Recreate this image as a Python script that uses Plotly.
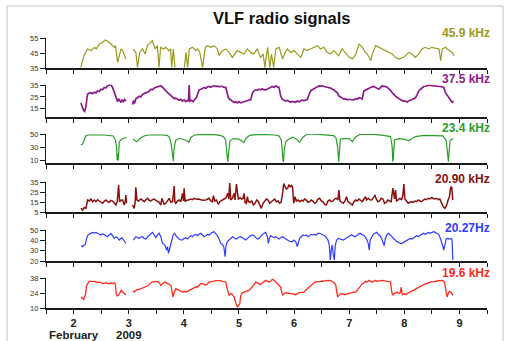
import plotly.graph_objects as go

# ---------------- data (day of February 2009, signal amplitude) ----------------
d_459 = [2.13, 2.19, 2.25, 2.32, 2.38, 2.41, 2.47, 2.53, 2.57, 2.62, 2.68, 2.74, 2.76, 2.80, 2.86, 2.89, 2.95, None,
         3.08, 3.13, 3.16, 3.20, 3.25, 3.30, 3.34, 3.40, 3.43, 3.48, 3.52, 3.55, 3.58, 3.63, 3.67, 3.73, 3.76, 3.78, 3.81, 3.84, None,
         4.01, 4.04, 4.07, 4.10, 4.16, 4.22, 4.25, 4.29, 4.34, 4.39, 4.43, 4.49, 4.55, 4.61, 4.64, 4.70, 4.76, 4.82, 4.88,
         4.97, 5.03, 5.09, 5.15, 5.21, 5.27, 5.33, 5.39, 5.44, 5.47, 5.52, 5.56, 5.59, 5.63, 5.67, 5.73, 5.79, 5.84, 5.88,
         5.94, 6.00, 6.06, 6.12, 6.18, 6.24, 6.30, 6.36, 6.42, 6.48, 6.54, 6.60, 6.66, 6.72, 6.81, 6.87, 6.93, 7.00, 7.06,
         7.12, 7.18, 7.24, 7.29, 7.33, 7.39, 7.42, 7.48, 7.54, 7.60, 7.66, 7.72, 7.78, 7.84, 7.90, 7.99, 8.08, 8.14, 8.20,
         8.26, 8.32, 8.38, 8.44, 8.50, 8.57, 8.63, 8.66, 8.69, 8.75, 8.81, 8.87, 8.90]
v_459 = [35.4, 43.2, 47.7, 46.6, 48.8, 47.7, 51.0, 52.1, 53.7, 52.8, 51.0, 48.8, 49.9, 38.8, 47.7, 46.6, 41.0, None,
         47.7, 45.4, 35.4, 45.4, 47.7, 44.3, 49.9, 52.1, 53.2, 47.7, 49.9, 35.4, 48.8, 47.7, 48.8, 46.6, 47.7, 35.4, 47.7, 35.4, None,
         35.4, 45.4, 35.4, 47.7, 48.8, 46.6, 47.7, 45.4, 35.4, 48.8, 49.9, 48.8, 49.9, 47.7, 43.2, 46.6, 47.7, 45.4, 42.1,
         46.6, 45.4, 44.3, 47.7, 45.4, 44.3, 47.7, 42.1, 44.3, 35.4, 48.8, 35.4, 44.3, 35.4, 47.7, 48.8, 41.0, 45.4, 47.7,
         45.4, 46.6, 44.3, 42.1, 47.7, 46.6, 47.7, 48.8, 49.9, 47.7, 48.8, 45.4, 44.3, 46.6, 43.2, 47.7, 45.4, 42.1, 41.0,
         44.3, 51.0, 48.8, 45.4, 44.3, 39.9, 44.3, 49.9, 48.8, 47.7, 46.6, 45.4, 44.3, 42.1, 41.0, 42.1, 45.4, 44.3, 42.1,
         44.3, 47.7, 48.8, 47.7, 48.8, 48.3, 47.7, 39.9, 47.7, 48.8, 46.6, 45.4, 43.2]

d_375 = [2.134, 2.164, 2.182, 2.2, 2.225, 2.243, 2.255, 2.285, 2.315, 2.345, 2.376, 2.406, 2.436, 2.466, 2.497, 2.527,
         2.557, 2.587, 2.617, 2.647, 2.678, 2.708, 2.738, 2.756, 2.78, 2.798, 2.817, 2.841, 2.859, 2.877, 2.901, 2.925, 2.949, None,
         3.07, 3.088, 3.106, 3.13, 3.161, 3.191, 3.221, 3.251, 3.281, 3.312, 3.342, 3.372, 3.402, 3.432, 3.463, 3.493,
         3.523, 3.553, 3.583, 3.614, 3.644, 3.674, 3.704, 3.734, 3.765, 3.795, 3.825, 3.855, 3.885, 3.915, 3.946, 3.976,
         4.006, 4.036, 4.066, 4.085, 4.097, 4.109, 4.139, 4.169, 4.199, 4.23, 4.248, 4.278, 4.308, 4.338, 4.368, 4.399,
         4.429, 4.459, 4.489, 4.519, 4.549, 4.58, 4.61, 4.64, 4.67, 4.70, 4.73, 4.761, 4.791, 4.809, 4.833, 4.857, 4.882,
         4.912, 4.942, 4.972, 5.003, 5.033, 5.063, 5.093, 5.123, 5.153, 5.184, 5.214, 5.244, 5.274, 5.304, 5.334, 5.365,
         5.395, 5.425, 5.455, 5.486, 5.516, 5.546, 5.576, 5.606, 5.637, 5.667, 5.697, 5.727, 5.757, 5.787, 5.818, 5.848,
         5.878, 5.908, 5.938, 5.969, 5.999, 6.029, 6.059, 6.089, 6.119, 6.15, 6.18, 6.21, 6.24, 6.271, 6.301, 6.331, 6.361,
         6.391, 6.422, 6.452, 6.482, 6.512, 6.542, 6.573, 6.603, 6.633, 6.663, 6.693, 6.724, 6.754, 6.784, 6.814, 6.844,
         6.874, 6.905, 6.935, 6.965, 6.995, 7.025, 7.056, 7.086, 7.116, 7.146, 7.176, 7.207, 7.237, 7.267, 7.297, 7.327,
         7.358, 7.388, 7.418, 7.448, 7.478, 7.509, 7.539, 7.569, 7.599, 7.629, 7.66, 7.69, 7.72, 7.75, 7.78, 7.811, 7.841,
         7.871, 7.901, 7.931, 7.962, 7.992, 8.022, 8.052, 8.082, 8.113, 8.143, 8.173, 8.203, 8.233, 8.264, 8.294, 8.324,
         8.354, 8.384, 8.415, 8.445, 8.475, 8.505, 8.535, 8.565, 8.596, 8.626, 8.656, 8.686, 8.716, 8.746, 8.777, 8.807,
         8.837, 8.867, 8.897]
v_375 = [19.9, 15.6, 13.5, 12.7, 17.0, 24.0, 27.2, 28.2, 28.6, 27.8, 29.0, 28.4, 30.1, 29.6, 31.5, 31.0,
         33.0, 32.5, 34.4, 35.0, 35.3, 33.0, 28.6, 26.0, 22.8, 21.0, 23.5, 21.4, 20.2, 22.5, 21.0, 22.8, 21.4, None,
         18.5, 22.0, 19.5, 23.5, 24.3, 25.5, 25.0, 27.2, 27.8, 28.6, 29.5, 29.8, 31.5, 31.0, 32.5, 33.0,
         33.5, 34.0, 34.4, 33.2, 31.5, 30.5, 28.6, 27.5, 26.0, 24.3, 23.5, 24.0, 22.8, 22.2, 23.0, 21.4,
         22.5, 21.0, 22.0, 21.4, 35.0, 21.4, 22.2, 21.0, 23.0, 24.5, 27.0, 30.9, 31.5, 32.5, 33.0, 32.2,
         33.5, 33.8, 33.2, 34.0, 34.4, 34.0, 34.2, 33.5, 34.0, 33.8, 33.0, 33.0, 28.0, 24.3, 23.0, 22.0, 21.4,
         20.2, 21.0, 19.9, 21.0, 20.0, 20.5, 21.0, 21.4, 21.8, 22.5, 22.8, 28.0, 30.1, 31.0, 30.5, 31.5,
         31.0, 31.8, 30.9, 30.9, 31.5, 32.5, 33.2, 33.8, 33.0, 34.4, 33.5, 33.0, 25.7, 23.0, 22.2, 21.5,
         22.0, 21.4, 20.5, 21.2, 20.5, 20.5, 21.5, 20.8, 21.8, 22.2, 21.8, 22.5, 22.8, 27.0, 30.1, 31.0, 32.0,
         33.0, 33.5, 34.4, 34.2, 34.4, 33.8, 33.8, 33.2, 32.8, 32.5, 31.5, 31.0, 29.5, 28.6, 25.7, 24.5,
         24.0, 23.2, 23.4, 22.5, 23.0, 22.8, 22.8, 22.5, 23.5, 23.2, 24.3, 23.5, 23.4, 30.1, 31.0, 31.5,
         32.1, 33.0, 33.5, 33.8, 33.0, 32.0, 31.5, 33.0, 34.4, 33.8, 34.0, 33.0, 32.0, 30.5, 28.6, 27.5, 25.7,
         24.5, 23.5, 22.8, 21.8, 21.4, 21.4, 20.5, 21.8, 22.2, 23.0, 23.8, 24.3, 27.0, 30.1, 31.5, 32.5,
         33.8, 34.0, 34.5, 35.0, 34.7, 34.4, 34.5, 34.4, 34.0, 33.8, 33.8, 33.5, 33.0, 28.6, 26.5, 24.3,
         22.0, 20.5, 21.4]

d_234 = [2.13, 2.16, 2.19, 2.22, 2.26, 2.35, 2.45, 2.55, 2.65, 2.72, 2.76, 2.78, 2.79, 2.80, 2.81, 2.83, 2.87, 2.92, 2.96, None,
         3.08, 3.12, 3.15, 3.20, 3.28, 3.36, 3.50, 3.60, 3.70, 3.74, 3.77, 3.80, 3.81, 3.82, 3.85, 3.92, 4.00, 4.05, 4.09,
         4.13, 4.20, 4.35, 4.55, 4.65, 4.72, 4.76, 4.79, 4.80, 4.81, 4.84, 4.90, 5.00, 5.06, 5.09, 5.13, 5.20, 5.35, 5.50,
         5.65, 5.73, 5.77, 5.80, 5.81, 5.82, 5.85, 5.90, 5.98, 6.06, 6.10, 6.16, 6.24, 6.45, 6.60, 6.72, 6.76, 6.79, 6.81,
         6.82, 6.84, 6.90, 7.00, 7.06, 7.11, 7.20, 7.45, 7.62, 7.75, 7.78, 7.79, 7.80, 7.82, 7.90, 8.00, 8.08, 8.12, 8.20,
         8.35, 8.55, 8.70, 8.76, 8.80, 8.81, 8.83, 8.86, 8.89]
v_234 = [33.0, 34.0, 40.0, 47.0, 48.5, 49.0, 48.5, 48.5, 48.0, 47.0, 41.0, 30.0, 10.0, 20.0, 9.0, 38.0, 42.0, 44.0, 45.0, None,
         42.0, 39.0, 38.0, 43.0, 47.0, 48.5, 49.0, 48.5, 48.0, 45.0, 35.0, 10.0, 8.0, 25.0, 40.0, 43.4, 42.0, 40.0, 37.2,
         45.0, 48.5, 49.5, 49.0, 48.0, 46.0, 40.0, 12.0, 7.0, 20.0, 40.0, 43.0, 42.0, 38.5, 37.0, 44.0, 48.0, 49.5, 49.0,
         48.5, 47.0, 40.0, 9.0, 7.0, 25.0, 38.0, 42.0, 45.0, 41.0, 37.2, 45.0, 50.0, 49.5, 48.5, 47.5, 44.0, 30.0, 7.4,
         20.0, 42.0, 43.0, 43.0, 38.0, 45.0, 49.5, 49.5, 48.0, 46.0, 30.0, 7.4, 12.0, 41.0, 43.0, 42.0, 40.0, 42.0, 46.0,
         48.0, 48.0, 47.0, 40.0, 7.4, 20.0, 40.0, 42.0, 43.0]

d_2090 = [2.134, 2.164, 2.194, 2.225, 2.243, 2.255, 2.285, 2.315, 2.345, 2.376, 2.406, 2.436, 2.466, 2.497, 2.527, 2.557,
          2.587, 2.617, 2.647, 2.678, 2.708, 2.738, 2.768, 2.792, 2.817, 2.835, 2.859, 2.889, 2.919, 2.937, 2.949, 2.961, None,
          3.07, 3.1, 3.118, 3.13, 3.149, 3.179, 3.221, 3.251, 3.281, 3.312, 3.342, 3.372, 3.402, 3.432, 3.463, 3.493, 3.523,
          3.553, 3.583, 3.602, 3.614, 3.644, 3.674, 3.704, 3.734, 3.765, 3.795, 3.813, 3.825, 3.837, 3.855, 3.885, 3.915,
          3.946, 3.976, 3.994, 4.006, 4.024, 4.048, 4.085, 4.121, 4.157, 4.193, 4.23, 4.266, 4.308, 4.35, 4.399, 4.435,
          4.459, 4.489, 4.519, 4.537, 4.562, 4.592, 4.628, 4.652, 4.688, 4.73, 4.761, 4.797, 4.815, 4.833, 4.852, 4.882,
          4.912, 4.93, 4.954, 4.972, 4.99, 5.021, 5.051, 5.075, 5.093, 5.111, 5.135, 5.153, 5.172, 5.202, 5.232, 5.262,
          5.292, 5.322, 5.353, 5.383, 5.407, 5.437, 5.467, 5.498, 5.528, 5.558, 5.588, 5.618, 5.649, 5.679, 5.709, 5.739,
          5.763, 5.788, 5.812, 5.836, 5.86, 5.884, 5.908, 5.932, 5.957, 5.975, 5.993, 6.017, 6.041, 6.071, 6.101, 6.132,
          6.162, 6.192, 6.222, 6.253, 6.283, 6.313, 6.343, 6.373, 6.404, 6.434, 6.464, 6.494, 6.524, 6.555, 6.585, 6.615,
          6.645, 6.675, 6.706, 6.736, 6.766, 6.796, 6.814, 6.832, 6.862, 6.893, 6.923, 6.953, 6.971, 7.001, 7.031, 7.056,
          7.086, 7.116, 7.146, 7.176, 7.207, 7.237, 7.267, 7.297, 7.315, 7.346, 7.376, 7.406, 7.442, 7.467, 7.491, 7.521,
          7.551, 7.581, 7.611, 7.642, 7.672, 7.702, 7.732, 7.762, 7.793, 7.823, 7.841, 7.859, 7.889, 7.919, 7.95, 7.974,
          7.992, 8.01, 8.04, 8.07, 8.1, 8.131, 8.161, 8.191, 8.221, 8.251, 8.282, 8.312, 8.342, 8.372, 8.402, 8.432, 8.463,
          8.493, 8.523, 8.553, 8.584, 8.614, 8.644, 8.674, 8.705, 8.735, 8.765, 8.795, 8.819, 8.843, 8.861, 8.879]
v_2090 = [8.7, 7.0, 9.3, 8.7, 13.7, 17.0, 16.0, 18.0, 15.3, 17.0, 15.3, 17.3, 16.0, 14.7, 13.7, 16.0,
          17.0, 15.3, 14.7, 16.7, 16.0, 14.0, 12.0, 15.3, 32.0, 15.3, 16.7, 17.0, 12.0, 15.3, 22.0, 13.7, None,
          12.0, 8.7, 15.3, 29.7, 17.0, 16.0, 18.0, 16.7, 15.3, 17.3, 18.7, 16.7, 16.0, 17.3, 18.0, 16.7, 16.0,
          14.7, 12.0, 18.7, 17.0, 12.7, 13.7, 17.0, 18.7, 14.7, 15.3, 23.7, 31.0, 15.3, 13.7, 16.0, 17.0,
          15.3, 23.7, 16.0, 28.7, 15.3, 16.7, 17.0, 18.0, 17.3, 18.7, 17.7, 18.0, 17.3, 16.7, 17.0, 18.0,
          18.7, 16.0, 15.3, 21.3, 16.0, 17.0, 12.7, 15.3, 17.0, 18.0, 18.7, 23.7, 18.0, 34.0, 17.0, 18.7,
          23.7, 17.0, 33.0, 22.0, 18.0, 19.3, 18.0, 18.7, 23.7, 14.7, 13.7, 20.3, 15.3, 14.7, 16.0, 12.0,
          13.7, 17.0, 15.3, 11.3, 8.7, 13.7, 16.0, 18.0, 17.0, 13.7, 15.3, 17.0, 18.0, 15.3, 16.0, 13.7,
          14.7, 22.0, 33.5, 30.3, 28.0, 29.0, 32.0, 30.3, 32.0, 28.7, 13.7, 20.3, 16.0, 17.0, 15.3, 16.7,
          16.0, 18.0, 17.0, 14.7, 15.3, 17.0, 16.0, 13.7, 14.7, 18.0, 18.7, 16.0, 15.3, 12.7, 12.0, 16.0,
          17.0, 15.3, 16.0, 18.0, 18.7, 17.0, 27.0, 16.0, 14.7, 13.7, 16.0, 20.3, 16.0, 14.7, 12.7, 12.0,
          15.3, 17.0, 16.0, 18.0, 16.7, 15.3, 18.0, 20.3, 17.0, 18.7, 17.3, 17.0, 19.3, 22.0, 18.0, 15.3,
          16.0, 18.7, 18.0, 13.7, 14.7, 17.0, 16.0, 15.3, 29.0, 18.0, 27.0, 16.0, 17.0, 18.7, 17.0, 22.0,
          33.0, 18.0, 16.0, 13.7, 14.7, 15.3, 14.7, 16.0, 15.3, 17.0, 16.0, 15.3, 16.7, 18.0, 17.3, 18.7, 18.0,
          19.3, 18.7, 18.0, 18.7, 17.3, 18.0, 13.7, 10.3, 8.7, 11.3, 17.0, 20.3, 30.3, 29.3, 17.0]

d_2027 = [2.134, 2.164, 2.194, 2.213, 2.237, 2.261, 2.285, 2.315, 2.345, 2.376, 2.406, 2.436, 2.466, 2.497, 2.527, 2.557,
          2.587, 2.617, 2.647, 2.678, 2.708, 2.738, 2.768, 2.798, 2.829, 2.859, 2.877, 2.907, 2.949, None,
          3.082, 3.106, 3.13, 3.161, 3.191, 3.221, 3.251, 3.281, 3.312, 3.342, 3.372, 3.402, 3.432, 3.463, 3.493, 3.523,
          3.553, 3.583, 3.614, 3.644, 3.662, 3.686, 3.704, 3.722, 3.74, 3.759, 3.783, 3.807, 3.831, 3.855, 3.885, 3.915,
          3.946, 3.976, 4.006, 4.036, 4.066, 4.097, 4.127, 4.157, 4.187, 4.218, 4.248, 4.278, 4.308, 4.338, 4.368, 4.399,
          4.429, 4.459, 4.489, 4.519, 4.549, 4.58, 4.61, 4.64, 4.67, 4.70, 4.725, 4.749, 4.767, 4.791, 4.821, 4.852, 4.882,
          4.912, 4.942, 4.972, 5.003, 5.033, 5.063, 5.093, 5.123, 5.153, 5.184, 5.214, 5.244, 5.274, 5.304, 5.334, 5.365,
          5.395, 5.425, 5.455, 5.486, 5.516, 5.534, 5.552, 5.576, 5.606, 5.637, 5.667, 5.697, 5.727, 5.757, 5.788, 5.818,
          5.848, 5.878, 5.908, 5.938, 5.969, 5.999, 6.029, 6.059, 6.077, 6.101, 6.132, 6.162, 6.192, 6.222, 6.253, 6.283,
          6.313, 6.343, 6.373, 6.404, 6.434, 6.464, 6.494, 6.524, 6.555, 6.585, 6.615, 6.639, 6.657, 6.675, 6.693, 6.712,
          6.73, 6.748, 6.772, 6.802, 6.832, 6.862, 6.893, 6.923, 6.953, 6.983, 7.013, 7.044, 7.074, 7.104, 7.134, 7.164,
          7.195, 7.225, 7.255, 7.285, 7.315, 7.346, 7.364, 7.382, 7.406, 7.436, 7.467, 7.497, 7.527, 7.557, 7.587, 7.617,
          7.635, 7.654, 7.684, 7.714, 7.744, 7.775, 7.805, 7.835, 7.865, 7.896, 7.926, 7.956, 7.986, 8.016, 8.046, 8.076,
          8.107, 8.137, 8.167, 8.197, 8.227, 8.257, 8.288, 8.318, 8.348, 8.378, 8.408, 8.439, 8.469, 8.499, 8.529, 8.559,
          8.59, 8.62, 8.644, 8.668, 8.692, 8.716, 8.735, 8.759, 8.789, 8.819, 8.849, 8.867, 8.879]
v_2027 = [34.8, 33.9, 35.5, 36.1, 41.9, 45.2, 45.8, 46.8, 47.7, 47.1, 47.7, 46.8, 45.8, 45.2, 46.5, 45.8,
          44.5, 43.5, 45.2, 46.8, 44.5, 41.9, 43.2, 42.6, 40.3, 41.9, 42.6, 40.3, 37.1, None,
          40.3, 42.6, 43.5, 42.6, 41.9, 43.2, 43.5, 41.9, 41.3, 43.5, 45.2, 46.8, 47.7, 45.2, 42.6, 45.2,
          46.8, 43.5, 37.1, 36.1, 34.8, 30.6, 33.9, 27.4, 32.3, 35.5, 40.3, 45.2, 46.8, 44.5, 42.6, 41.3,
          40.3, 40.3, 41.9, 42.6, 41.3, 43.5, 44.5, 43.5, 45.2, 45.8, 44.5, 45.8, 46.8, 45.2, 43.5, 44.5,
          45.8, 45.2, 46.8, 47.7, 48.4, 46.8, 44.5, 41.3, 37.1, 36.1, 33.9, 24.2, 35.5, 38.7, 40.3, 41.9, 43.5,
          42.6, 41.3, 41.9, 43.2, 43.5, 42.6, 41.3, 40.3, 41.9, 43.5, 44.5, 45.2, 44.5, 42.6, 41.3, 41.9,
          44.5, 45.8, 46.8, 47.7, 43.5, 37.1, 41.9, 44.5, 43.5, 42.6, 43.5, 41.9, 41.3, 42.6, 43.5, 42.6,
          41.3, 40.3, 39.4, 38.7, 38.7, 40.3, 38.7, 33.9, 38.7, 41.9, 43.5, 45.2, 44.5, 45.2, 43.5, 44.5,
          45.8, 45.2, 45.8, 45.2, 46.8, 46.8, 45.8, 45.2, 44.5, 42.6, 40.3, 35.5, 21.0, 30.6, 35.5, 25.8,
          21.0, 35.5, 40.3, 41.9, 41.3, 40.3, 40.3, 41.3, 42.6, 43.5, 44.5, 45.2, 44.5, 43.5, 44.5, 45.8,
          46.8, 45.8, 45.2, 43.5, 41.3, 37.1, 30.6, 40.3, 43.5, 45.8, 46.8, 47.7, 45.8, 44.5, 41.9, 37.1,
          34.8, 41.3, 45.2, 46.8, 45.2, 43.5, 41.9, 40.3, 38.7, 38.1, 37.1, 37.1, 38.1, 39.4, 40.3, 41.3,
          41.9, 41.3, 42.6, 43.5, 44.5, 43.5, 45.2, 45.8, 46.8, 45.8, 47.1, 47.7, 46.8, 47.7, 48.4, 47.7,
          46.8, 45.8, 43.5, 40.3, 35.5, 30.6, 37.1, 41.3, 41.9, 41.3, 41.9, 40.3, 21.0]

d_196 = [2.134, 2.164, 2.182, 2.2, 2.219, 2.237, 2.261, 2.285, 2.315, 2.345, 2.376, 2.406, 2.436, 2.466, 2.497, 2.527,
         2.557, 2.587, 2.617, 2.647, 2.678, 2.708, 2.738, 2.756, 2.774, 2.792, 2.817, 2.841, 2.865, 2.889, 2.919, 2.949, None,
         3.082, 3.1, 3.13, 3.161, 3.191, 3.221, 3.251, 3.281, 3.312, 3.342, 3.372, 3.402, 3.432, 3.463, 3.493, 3.523,
         3.553, 3.583, 3.614, 3.644, 3.674, 3.704, 3.734, 3.765, 3.783, 3.801, 3.825, 3.855, 3.885, 3.915, 3.946, 3.976,
         4.006, 4.036, 4.066, 4.097, 4.127, 4.157, 4.187, 4.218, 4.248, 4.278, 4.308, 4.338, 4.368, 4.399, 4.429, 4.459,
         4.489, 4.519, 4.549, 4.58, 4.61, 4.64, 4.67, 4.70, 4.73, 4.761, 4.779, 4.797, 4.821, 4.852, 4.882, 4.912, 4.93,
         4.948, 4.972, 4.99, 5.015, 5.033, 5.063, 5.093, 5.123, 5.153, 5.184, 5.214, 5.244, 5.274, 5.304, 5.334, 5.365,
         5.395, 5.425, 5.455, 5.486, 5.516, 5.546, 5.576, 5.606, 5.637, 5.667, 5.697, 5.727, 5.757, 5.775, 5.793, 5.818,
         5.848, 5.878, 5.908, 5.938, 5.969, 5.999, 6.029, 6.059, 6.089, 6.119, 6.15, 6.18, 6.21, 6.24, 6.271, 6.301,
         6.331, 6.361, 6.391, 6.422, 6.452, 6.482, 6.512, 6.542, 6.573, 6.603, 6.633, 6.663, 6.693, 6.724, 6.754, 6.772,
         6.79, 6.814, 6.844, 6.874, 6.905, 6.935, 6.965, 6.995, 7.025, 7.056, 7.086, 7.116, 7.146, 7.176, 7.207, 7.237,
         7.267, 7.297, 7.327, 7.358, 7.388, 7.418, 7.448, 7.478, 7.509, 7.539, 7.569, 7.599, 7.629, 7.66, 7.69, 7.72,
         7.75, 7.768, 7.786, 7.811, 7.841, 7.871, 7.901, 7.925, 7.944, 7.962, 7.992, 8.022, 8.052, 8.082, 8.113, 8.143,
         8.173, 8.203, 8.233, 8.264, 8.294, 8.324, 8.354, 8.384, 8.415, 8.445, 8.475, 8.505, 8.535, 8.565, 8.596, 8.626,
         8.656, 8.686, 8.716, 8.735, 8.759, 8.777, 8.801, 8.819, 8.843, 8.867, 8.885]
v_196 = [20.3, 18.7, 18.1, 20.3, 23.4, 31.2, 33.6, 34.9, 34.9, 35.2, 34.9, 34.3, 33.6, 34.3, 33.3, 32.7,
         33.0, 33.6, 33.0, 32.7, 33.3, 32.7, 33.6, 32.7, 23.4, 21.2, 21.8, 24.9, 26.5, 24.9, 23.4, 22.4, None,
         26.5, 24.9, 26.5, 27.4, 27.4, 28.0, 28.0, 28.7, 29.6, 30.5, 31.8, 33.6, 34.3, 34.3, 34.9, 34.9,
         33.6, 31.2, 32.7, 34.3, 33.6, 32.7, 31.8, 31.2, 26.5, 20.3, 24.3, 28.0, 27.4, 26.5, 25.6, 24.9,
         25.6, 24.9, 25.6, 26.5, 27.4, 28.0, 28.7, 29.6, 29.6, 31.2, 32.7, 32.7, 31.8, 31.2, 32.7, 34.3,
         34.3, 34.9, 34.9, 35.5, 35.5, 35.8, 35.5, 34.9, 34.9, 34.3, 29.6, 25.6, 21.8, 23.4, 22.4, 20.3, 15.6,
         14.0, 10.9, 12.5, 14.0, 21.8, 24.3, 24.9, 25.6, 26.5, 26.5, 28.0, 29.6, 31.8, 34.3, 33.6, 32.7,
         31.8, 33.6, 34.9, 35.8, 34.9, 34.3, 34.9, 36.8, 35.8, 34.3, 32.7, 31.2, 29.6, 24.9, 21.8, 23.4,
         24.3, 24.0, 23.4, 23.4, 23.1, 22.4, 22.4, 23.4, 24.3, 24.3, 24.9, 24.9, 26.5, 28.0, 29.6, 31.2,
         32.7, 33.6, 34.3, 34.3, 34.9, 34.9, 35.2, 34.9, 35.5, 35.8, 35.8, 35.5, 34.9, 33.6, 31.8, 24.9,
         20.3, 21.8, 23.4, 23.1, 22.4, 22.4, 23.1, 23.4, 23.4, 24.3, 24.9, 24.9, 26.5, 28.7, 31.2, 32.7,
         33.6, 34.9, 34.3, 35.8, 34.9, 34.3, 34.9, 35.8, 34.9, 34.9, 35.5, 35.8, 35.5, 35.8, 34.9, 34.9,
         34.3, 26.5, 21.8, 23.4, 24.3, 24.9, 23.4, 24.3, 29.6, 22.4, 23.4, 22.4, 23.4, 24.3, 24.9, 25.6,
         26.5, 27.4, 28.7, 29.6, 30.5, 31.2, 31.8, 32.7, 32.7, 33.6, 34.3, 34.3, 34.9, 34.9, 35.2, 35.5,
         35.8, 35.8, 34.9, 32.7, 24.9, 20.3, 24.3, 25.6, 24.9, 23.4, 21.8]

# panel labels / colours / axes
labels = ["45.9 kHz", "37.5 kHz", "23.4 kHz", "20.90 kHz", "20.27Hz", "19.6 kHz"]
colors = ["#9a9a1e", "#8c1c8c", "#2a9e2a", "#8a1010", "#2f3cff", "#ff2c1c"]
y_ranges = [[35, 55], [8, 35.5], [5, 50], [5, 35], [20, 50], [10, 38]]
y_ticks = [[35, 45, 55], [15, 25, 35], [10, 30, 50], [5, 15, 25, 35], [20, 30, 40, 50], [10, 24, 38]]
x_ticks = [1.5, 2, 2.5, 3, 3.5, 4, 4.5, 5, 5.5, 6, 6.5, 7, 7.5, 8, 8.5, 9, 9.5]
x_ticktext = ["", "2", "", "3", "", "4", "", "5", "", "6", "", "7", "", "8", "", "9", ""]

series = [(d_459, v_459), (d_375, v_375), (d_234, v_234), (d_2090, v_2090), (d_2027, v_2027), (d_196, v_196)]
widths = [1.2, 1.7, 1.2, 1.5, 1.2, 1.3]

# ---------------- layout geometry (pixels) ----------------
W, H = 508, 341
X_LEFT, X_RIGHT = 46, 487
panel_px = [(68, 38), (117, 84.5), (163.25, 134), (212, 182), (261, 230), (308, 278)]  # (bottom, top)
label_y = [32.5, 79, 127.5, 178.5, 227.5, 272.5]

def fx(px):
    return px / W

def fy(py):
    return 1 - py / H

FONT = "Liberation Sans, Arial, sans-serif"

fig = go.Figure()
layout = dict(
    template="none",
    width=W, height=H, margin=dict(l=0, r=0, t=0, b=0, pad=0), autosize=False,
    paper_bgcolor="white", plot_bgcolor="white", showlegend=False,
)
for i, ((dx, dv), col, lw) in enumerate(zip(series, colors, widths)):
    n = "" if i == 0 else str(i + 1)
    fig.add_trace(go.Scatter(x=dx, y=dv, mode="lines", line=dict(color=col, width=lw),
                             xaxis="x" + n, yaxis="y" + n, connectgaps=False, hoverinfo="skip"))
    bottom, top = panel_px[i]
    last = (i == 5)
    layout["xaxis" + n] = dict(
        domain=[fx(X_LEFT), fx(X_RIGHT)], range=[1.5, 9.5], anchor="y" + n, automargin=False,
        showline=True, linecolor="#1a1a1a", linewidth=1.6, mirror=False,
        ticks="outside", ticklen=4, tickwidth=1.3, tickcolor="#1a1a1a",
        tickvals=x_ticks, ticktext=x_ticktext, showticklabels=last,
        tickfont=dict(family=FONT, size=11, color="#222", weight="bold"),
        showgrid=False, zeroline=False, fixedrange=True,
    )
    layout["yaxis" + n] = dict(
        domain=[fy(bottom), fy(top)], range=y_ranges[i], anchor="x" + n, automargin=False,
        showline=True, linecolor="#1a1a1a", linewidth=1.2,
        ticks="outside", ticklen=5, tickwidth=1, tickcolor="#1a1a1a",
        tickvals=y_ticks[i], ticktext=[str(t) for t in y_ticks[i]],
        tickfont=dict(family=FONT, size=7.5, color="#333"),
        showgrid=False, zeroline=False, fixedrange=True,
    )

annotations = [
    dict(text="<b>VLF radio signals</b>", x=fx(281.5), y=fy(18), xref="paper", yref="paper",
         xanchor="center", yanchor="middle", showarrow=False,
         font=dict(family=FONT, size=16.5, color="#111")),
    dict(text="<b>February</b>", x=fx(47), y=fy(334.5), xref="paper", yref="paper",
         xanchor="left", yanchor="middle", showarrow=False,
         font=dict(family=FONT, size=11.5, color="#222")),
    dict(text="<b>2009</b>", x=fx(114), y=fy(334.5), xref="paper", yref="paper",
         xanchor="left", yanchor="middle", showarrow=False,
         font=dict(family=FONT, size=11.5, color="#222")),
]
for lab, col, ly in zip(labels, colors, label_y):
    annotations.append(dict(text="<b>" + lab + "</b>", x=fx(492), y=fy(ly), xref="paper", yref="paper",
                            xanchor="right", yanchor="middle", showarrow=False,
                            font=dict(family=FONT, size=12, color=col)))
layout["annotations"] = annotations
layout["shapes"] = [dict(type="rect", xref="paper", yref="paper",
                         x0=fx(7), x1=fx(503), y0=fy(345), y1=fy(6),
                         line=dict(color="#c4c4c4", width=1), fillcolor="rgba(0,0,0,0)", layer="below")]

fig.update_layout(**layout)
fig.write_html("out.html", include_plotlyjs=True, config={"displayModeBar": False},
               post_script="document.body.style.margin='0';document.body.style.padding='0';")
